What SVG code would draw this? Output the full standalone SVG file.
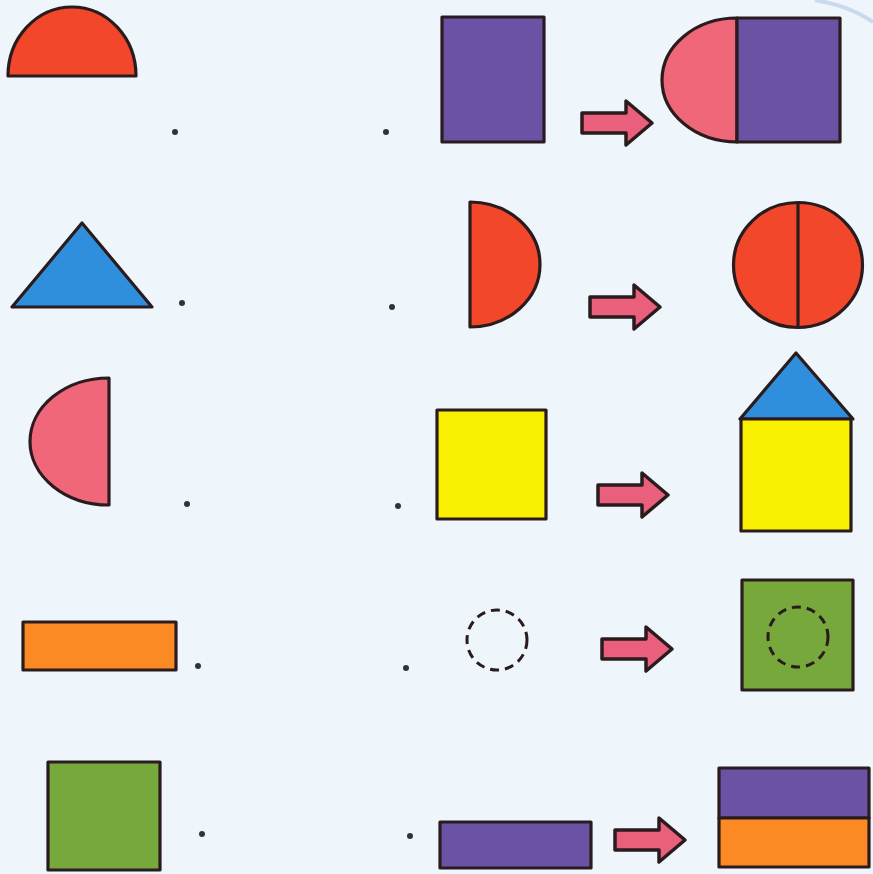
<svg xmlns="http://www.w3.org/2000/svg" xmlns:xlink="http://www.w3.org/1999/xlink" width="873" height="874" viewBox="0 0 873 874">
<style>
.s{stroke:#2a1c1e;stroke-width:3.2;stroke-linejoin:round}
.red{fill:#f2472a}.pink{fill:#f0677a}.purple{fill:#6a52a4}.blue{fill:#2f8fdc}
.yellow{fill:#f8f000}.orange{fill:#fb8a24}.green{fill:#77a83c}
.dot{fill:#333}
.dash{fill:none;stroke:#2a1c1e;stroke-width:3;stroke-dasharray:9 6}
.arr{fill:#ea5f7c;stroke:#2a1c1e;stroke-width:3.5;stroke-linejoin:round}
</style>
<defs>
<path id="arrow" d="M0,-10 H44 V-22 L70,0 L44,22 V10 H0 Z"/>
</defs>
<rect width="873" height="874" fill="#eff6fb"/>
<path d="M815,0 Q850,6 873,22" fill="none" stroke="#b9cfe8" stroke-width="4" opacity="0.7"/>

<!-- Row 1 -->
<g id="r1-semicircle"><path class="s red" d="M8,76 A64,69 0 0 1 136,76 Z"/></g>
<g id="r1-dot1"><circle class="dot" cx="175" cy="132" r="3"/></g>
<g id="r1-dot2"><circle class="dot" cx="386" cy="132" r="3"/></g>
<g id="r1-rect"><rect class="s purple" x="442" y="17" width="102" height="125"/></g>
<g id="r1-result">
<path class="s pink" d="M737,18 A75,62 0 0 0 737,142 Z"/>
<rect class="s purple" x="737" y="18" width="103" height="124"/>
</g>

<!-- Row 2 -->
<g id="r2-triangle"><polygon class="s blue" points="12,307 152,307 82,223"/></g>
<g id="r2-dot1"><circle class="dot" cx="182" cy="303" r="3"/></g>
<g id="r2-dot2"><circle class="dot" cx="392" cy="307" r="3"/></g>
<g id="r2-halfdisc"><path class="s red" d="M470,202 A70,62.5 0 0 1 470,327 Z"/></g>
<g id="r2-result">
<ellipse class="s red" cx="798" cy="265" rx="64.5" ry="62.5"/>
<line class="s" x1="798" y1="202.5" x2="798" y2="327.5"/>
</g>

<!-- Row 3 -->
<g id="r3-halfdisc"><path class="s pink" d="M109,378 A79,63.5 0 0 0 109,505 Z"/></g>
<g id="r3-dot1"><circle class="dot" cx="187" cy="504" r="3"/></g>
<g id="r3-dot2"><circle class="dot" cx="398" cy="506" r="3"/></g>
<g id="r3-rect"><rect class="s yellow" x="437" y="410" width="109" height="109"/></g>
<g id="r3-result">
<polygon class="s blue" points="740,419 853,419 796,353"/>
<rect class="s yellow" x="741" y="419" width="110" height="112"/>
</g>

<!-- Row 4 -->
<g id="r4-rect"><rect class="s orange" x="23" y="622" width="153" height="48"/></g>
<g id="r4-dot1"><circle class="dot" cx="198" cy="666" r="3"/></g>
<g id="r4-dot2"><circle class="dot" cx="406" cy="668" r="3"/></g>
<g id="r4-circle"><circle class="dash" cx="497" cy="640" r="30"/></g>
<g id="r4-result">
<rect class="s green" x="742" y="580" width="111" height="110"/>
<circle class="dash" cx="798" cy="637" r="30"/>
</g>

<!-- Row 5 -->
<g id="r5-square"><rect class="s green" x="48" y="762" width="112" height="108"/></g>
<g id="r5-dot1"><circle class="dot" cx="202" cy="834" r="3"/></g>
<g id="r5-dot2"><circle class="dot" cx="410" cy="836" r="3"/></g>
<g id="r5-rect"><rect class="s purple" x="440" y="822" width="151" height="46"/></g>
<g id="r5-result">
<rect class="s purple" x="719" y="768" width="150" height="50"/>
<rect class="s orange" x="719" y="818" width="150" height="49"/>
</g>

<g id="connectors">
<use xlink:href="#arrow" href="#arrow" class="arr" transform="translate(582,123)"/>
<use xlink:href="#arrow" href="#arrow" class="arr" transform="translate(590,307)"/>
<use xlink:href="#arrow" href="#arrow" class="arr" transform="translate(598,495)"/>
<use xlink:href="#arrow" href="#arrow" class="arr" transform="translate(602,649)"/>
<use xlink:href="#arrow" href="#arrow" class="arr" transform="translate(615,840)"/>
</g>
</svg>
